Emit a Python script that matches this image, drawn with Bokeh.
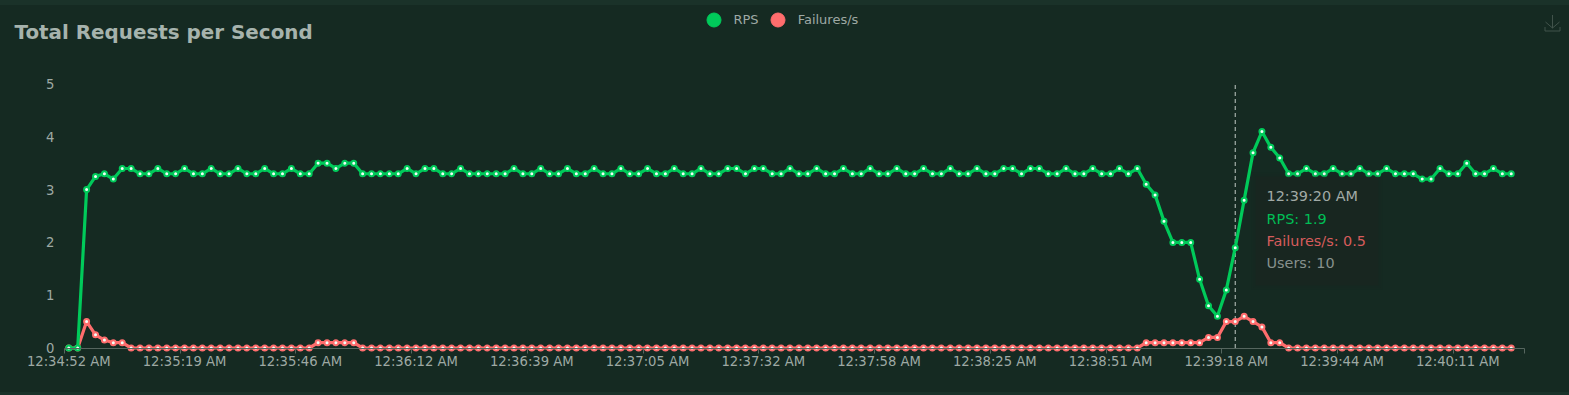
import base64
from bokeh.plotting import figure
from bokeh.embed import file_html
from bokeh.resources import INLINE
from bokeh.models import FixedTicker, Legend, LegendItem, Label, BoxAnnotation, Range1d

TITLE = "Total Requests per Second"
SERIES_NAMES = ["RPS", "Failures/s"]
tick_labels = ["12:34:52 AM", "12:35:19 AM", "12:35:46 AM", "12:36:12 AM", "12:36:39 AM",
               "12:37:05 AM", "12:37:32 AM", "12:37:58 AM", "12:38:25 AM", "12:38:51 AM",
               "12:39:18 AM", "12:39:44 AM", "12:40:11 AM"]
label_step = 13
category_count = 164
y_ticks = [0, 1, 2, 3, 4, 5]

rps = [0, 0, 3.0, 3.25, 3.3, 3.2, 3.4, 3.4, 3.3, 3.3,
       3.4, 3.3, 3.3, 3.4, 3.3, 3.3, 3.4, 3.3, 3.3, 3.4,
       3.3, 3.3, 3.4, 3.3, 3.3, 3.4, 3.3, 3.3, 3.5, 3.5,
       3.4, 3.5, 3.5, 3.3, 3.3, 3.3, 3.3, 3.3, 3.4, 3.3,
       3.4, 3.4, 3.3, 3.3, 3.4, 3.3, 3.3, 3.3, 3.3, 3.3,
       3.4, 3.3, 3.3, 3.4, 3.3, 3.3, 3.4, 3.3, 3.3, 3.4,
       3.3, 3.3, 3.4, 3.3, 3.3, 3.4, 3.3, 3.3, 3.4, 3.3,
       3.3, 3.4, 3.3, 3.3, 3.4, 3.4, 3.3, 3.4, 3.4, 3.3,
       3.3, 3.4, 3.3, 3.3, 3.4, 3.3, 3.3, 3.4, 3.3, 3.3,
       3.4, 3.3, 3.3, 3.4, 3.3, 3.3, 3.4, 3.3, 3.3, 3.4,
       3.3, 3.3, 3.4, 3.3, 3.3, 3.4, 3.4, 3.3, 3.4, 3.4,
       3.3, 3.3, 3.4, 3.3, 3.3, 3.4, 3.3, 3.3, 3.4, 3.3,
       3.4, 3.1, 2.9, 2.4, 2.0, 2.0, 2.0, 1.3, 0.8, 0.6,
       1.1, 1.9, 2.8, 3.7, 4.1, 3.8, 3.6, 3.3, 3.3, 3.4,
       3.3, 3.3, 3.4, 3.3, 3.3, 3.4, 3.3, 3.3, 3.4, 3.3,
       3.3, 3.3, 3.2, 3.2, 3.4, 3.3, 3.3, 3.5, 3.3, 3.3,
       3.4, 3.3, 3.3]
failures = [0, 0, 0.5, 0.25, 0.15, 0.1, 0.1, 0, 0, 0,
            0, 0, 0, 0, 0, 0, 0, 0, 0, 0,
            0, 0, 0, 0, 0, 0, 0, 0, 0.1, 0.1,
            0.1, 0.1, 0.1, 0, 0, 0, 0, 0, 0, 0,
            0, 0, 0, 0, 0, 0, 0, 0, 0, 0,
            0, 0, 0, 0, 0, 0, 0, 0, 0, 0,
            0, 0, 0, 0, 0, 0, 0, 0, 0, 0,
            0, 0, 0, 0, 0, 0, 0, 0, 0, 0,
            0, 0, 0, 0, 0, 0, 0, 0, 0, 0,
            0, 0, 0, 0, 0, 0, 0, 0, 0, 0,
            0, 0, 0, 0, 0, 0, 0, 0, 0, 0,
            0, 0, 0, 0, 0, 0, 0, 0, 0, 0,
            0, 0.1, 0.1, 0.1, 0.1, 0.1, 0.1, 0.1, 0.2, 0.2,
            0.5, 0.5, 0.6, 0.5, 0.4, 0.1, 0.1, 0, 0, 0,
            0, 0, 0, 0, 0, 0, 0, 0, 0, 0,
            0, 0, 0, 0, 0, 0, 0, 0, 0, 0,
            0, 0, 0]
hover_index = 131
hover_time = "12:39:20 AM"
hover_users = 10

GREEN = "#00ca5a"
RED = "#ff6d6d"
CARD = "#152a22"
BAND = "#1a3229"
TXT = "#9ea9a4"
FONT = "DejaVu Sans"

W, H = 1569, 395
ZERO_PX, PX_PER_UNIT = 347.5, 52.8     # vertical scale of the chart area
FIRST_PX, PX_PER_CAT = 68.3, 8.904     # horizontal scale of the chart area


def sx(px):
    return px


def sy(py):
    return H - py


idx = list(range(len(rps)))
tick_pos = [i * label_step for i in range(len(tick_labels))]

# page band and the download icon live in the figure's own CSS background
icon = ('<svg xmlns="http://www.w3.org/2000/svg" width="17" height="18">'
        '<path d="M8.5 1V14M1.5 8L8.5 14L15.5 8M1 13V17H16V13" fill="none" stroke="#41534b" stroke-width="1"/></svg>')
icon_url = "data:image/svg+xml;base64," + base64.b64encode(icon.encode()).decode()
page_bg = (f'url("{icon_url}") no-repeat 1544px 14px, '
           f"linear-gradient(to bottom,{BAND} 0 5px,{CARD} 5px 392px,{BAND} 392px)")

p = figure(width=W, height=H, output_backend="svg", toolbar_location=None,
           x_range=Range1d((0 - FIRST_PX) / PX_PER_CAT, (W - FIRST_PX) / PX_PER_CAT),
           y_range=Range1d((ZERO_PX - H) / PX_PER_UNIT, ZERO_PX / PX_PER_UNIT),
           min_border=0, background_fill_color=None, border_fill_color=None, outline_line_color=None,
           styles={"background": page_bg})
p.grid.visible = False

xa = p.xaxis[0]
xa.fixed_location = 0
xa.bounds = (-0.5, category_count - 0.5)
xa.ticker = FixedTicker(ticks=tick_pos,
                        minor_ticks=[t - 0.5 for t in tick_pos] + [category_count - 0.5])
xa.major_label_overrides = {t: s for t, s in zip(tick_pos, tick_labels)}
xa.major_tick_line_color = None
xa.major_tick_out = 0
xa.minor_tick_out = 5
xa.minor_tick_in = 0
xa.minor_tick_line_color = "#56665f"
xa.axis_line_color = "#56665f"
xa.major_label_text_font = FONT
xa.major_label_text_font_size = "13.2px"
xa.major_label_text_color = TXT
xa.major_label_standoff = 1

ya = p.yaxis[0]
ya.fixed_location = -0.5
ya.ticker = FixedTicker(ticks=y_ticks)
ya.axis_line_color = None
ya.major_tick_line_color = None
ya.minor_tick_line_color = None
ya.major_tick_out = 0
ya.major_label_text_font = FONT
ya.major_label_text_font_size = "13.2px"
ya.major_label_text_color = TXT
ya.major_label_standoff = 10

p.add_layout(Label(x=sx(14), y=sy(32), x_units="screen", y_units="screen", text=TITLE,
                   text_font=FONT, text_font_size="19.9px", text_font_style="bold",
                   text_color="#a6b3ad", text_baseline="middle"))

p.segment(x0=[hover_index], y0=[0], x1=[hover_index], y1=[max(y_ticks)],
          line_color="#c3cbc7", line_width=1, line_dash="4 3")

for ys, col in ((failures, RED), (rps, GREEN)):
    p.line(idx, ys, line_color=col, line_width=3.2, line_join="round")
    p.scatter(idx, ys, size=5, fill_color="#f2fff8", line_color=col, line_width=2)

# tooltip
for grow, a in ((4, 0.04), (2, 0.06), (0, 0.55)):
    p.add_layout(BoxAnnotation(left=sx(1255 - grow), right=sx(1378 + grow),
                               top=sy(176 - grow), bottom=sy(285 + grow),
                               left_units="screen", right_units="screen",
                               top_units="screen", bottom_units="screen",
                               fill_color="#1c2420", fill_alpha=a, line_color=None, level="overlay"))
tip_lines = [(hover_time, "#a1aaa6", 195.5),
             (f"{SERIES_NAMES[0]}: {rps[hover_index]}", "#00bd55", 218),
             (f"{SERIES_NAMES[1]}: {failures[hover_index]}", "#d65c5c", 240),
             (f"Users: {hover_users}", "#87918d", 262)]
for txt, col, y in tip_lines:
    p.add_layout(Label(x=sx(1266), y=sy(y), x_units="screen", y_units="screen", text=txt,
                       text_font=FONT, text_font_size="14.4px", text_color=col,
                       text_baseline="middle", level="overlay"))

nan = float("nan")
g0 = p.scatter([nan], [nan], size=14, color=GREEN)
g1 = p.scatter([nan], [nan], size=14, color=RED)
legend = Legend(items=[LegendItem(label=SERIES_NAMES[0], renderers=[g0], index=0),
                       LegendItem(label=SERIES_NAMES[1], renderers=[g1], index=0)],
                orientation="horizontal", location=(sx(695.5), sy(19 + 17.5)),
                glyph_width=35, glyph_height=35, label_standoff=3, spacing=1, padding=0, margin=0,
                background_fill_alpha=0, border_line_color=None,
                label_text_font=FONT, label_text_font_size="13px", label_text_color=TXT)
p.add_layout(legend, "center")

open("out.html", "w").write(file_html(p, INLINE))
